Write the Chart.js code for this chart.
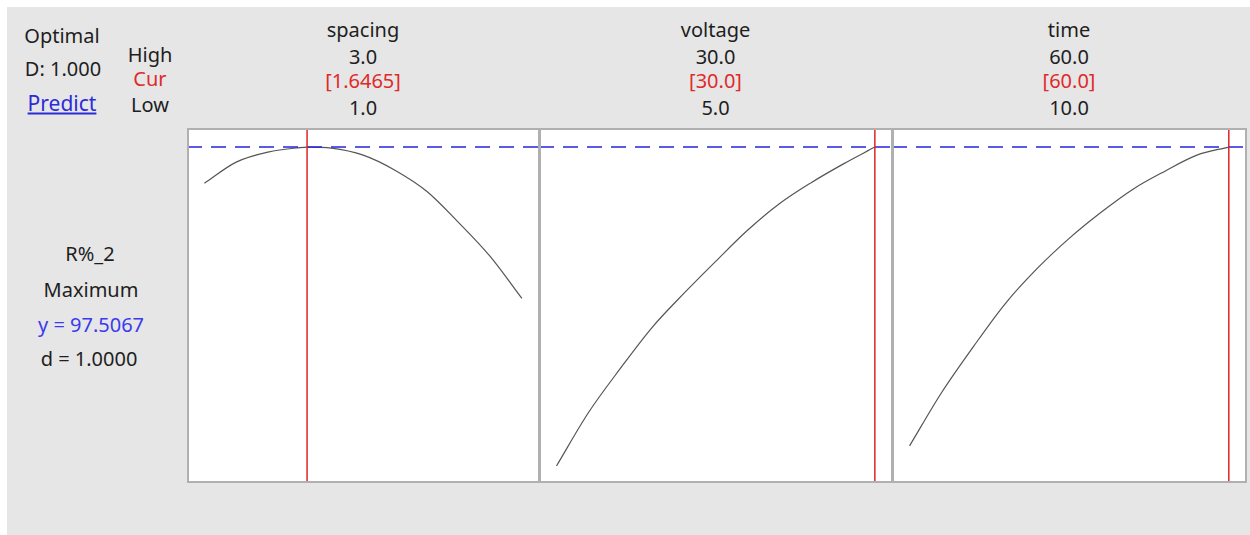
<!DOCTYPE html>
<html>
<head>
<meta charset="utf-8">
<script src="https://cdn.jsdelivr.net/npm/chart.js@4/dist/chart.umd.min.js"></script>
<style>
  body { margin: 0; background: #ffffff; font-family: 'Noto Sans', sans-serif; }
  #frame { position: absolute; left: 7px; top: 7px; width: 1243px; height: 528px; background: #e6e6e6; }
  .t { position: absolute; font-size: 20px; color: #1e1e1e; white-space: pre; transform: translate(-50%, -50%); line-height: 1; }
  .red { color: #e02a2a; }
  .blue { color: #3a3af0; }
  .link { color: #2b2bd8; text-decoration: underline; font-size: 21px; }
  .panel { position: absolute; }
</style>
</head>
<body>
<div id="frame"></div>
<div id="texts"></div>
<script>
const factorNames = ['spacing', 'voltage', 'time'];
const highLabels = ['3.0', '30.0', '60.0'];
const curLabels = ['[1.6465]', '[30.0]', '[60.0]'];
const lowLabels = ['1.0', '5.0', '10.0'];
const lowValues = [1.0, 5.0, 10.0];
const highValues = [3.0, 30.0, 60.0];
const curValues = [1.6465, 30.0, 60.0];

const responseName = 'R%_2';
const goal = 'Maximum';
const yOptimal = 97.5067;
const dValue = '1.0000';
const compositeD = '1.000';

// curves
const spacingX = [1.0, 1.2, 1.4, 1.6, 1.6465, 1.8, 2.0, 2.2, 2.4, 2.6, 2.8, 3.0];
const spacingY = [92.13, 95.27, 96.76, 97.43, 97.51, 97.36, 96.31, 94.07, 90.93, 86.30, 81.22, 74.95];
const voltageX = [5, 7.5, 10, 12.5, 15, 17.5, 20, 22.5, 25, 27.5, 30];
const voltageY = [50.0, 57.92, 64.49, 70.62, 75.70, 80.48, 85.11, 89.07, 92.21, 94.97, 97.51];
const timeX = [10, 15, 20, 25, 30, 35, 40, 45, 50, 55, 60];
const timeY = [52.99, 60.91, 67.78, 74.20, 79.43, 83.91, 87.80, 91.24, 93.92, 96.31, 97.51];

const yMin = 47.46;
const yMax = 100.35;

const curvesX = [spacingX, voltageX, timeX];
const curvesY = [spacingY, voltageY, timeY];

// panel boxes
const panelLeft = [187, 539, 892];
const panelRight = [539, 892, 1246];
const panelTop = 128;
const panelBottom = 482;

const texts = document.getElementById('texts');
function addText(str, x, y, cls) {
    const d = document.createElement('div');
    d.className = 't' + (cls ? ' ' + cls : '');
    d.textContent = str;
    d.style.left = x + 'px';
    d.style.top = y + 'px';
    texts.appendChild(d);
}

addText('Optimal', 62, 36);
addText('D: ' + compositeD, 63, 69);
addText('Predict', 62, 103, 'link');
addText('High', 150, 55);
addText('Cur', 150, 79, 'red');
addText('Low', 150, 105);
addText(responseName, 90, 254);
addText(goal, 91, 290);
addText('y = ' + yOptimal.toFixed(4), 91, 325, 'blue');
addText('d = ' + dValue, 89, 359);

const borderPlugin = {
    id: 'panelBorder',
    afterDraw(chart) {
        const a = chart.chartArea;
        const c = chart.ctx;
        c.save();
        c.strokeStyle = '#b0b0b0';
        c.lineWidth = 2;
        c.strokeRect(a.left + 1, a.top + 1, a.right - a.left - 2, a.bottom - a.top - 2);
        c.restore();
    }
};

for (let i = 0; i < 3; i++) {
    const cx = (panelLeft[i] + panelRight[i]) / 2;
    addText(factorNames[i], cx, 30);
    addText(highLabels[i], cx, 57);
    addText(curLabels[i], cx, 81, 'red');
    addText(lowLabels[i], cx, 108);

    const span = highValues[i] - lowValues[i];
    const xMin = lowValues[i] - span * 0.055;
    const xMax = highValues[i] + span * 0.057;

    const holder = document.createElement('div');
    holder.className = 'panel';
    holder.style.left = panelLeft[i] + 'px';
    holder.style.top = panelTop + 'px';
    holder.style.width = (panelRight[i] - panelLeft[i] + 1) + 'px';
    holder.style.height = (panelBottom - panelTop + 1) + 'px';
    const canvas = document.createElement('canvas');
    holder.appendChild(canvas);
    document.body.appendChild(holder);

    new Chart(canvas.getContext('2d'), {
        type: 'scatter',
        data: {
            datasets: [{
                data: curvesX[i].map((x, k) => ({ x: x, y: curvesY[i][k] })),
                showLine: true,
                borderColor: '#555555',
                borderWidth: 1.2,
                pointRadius: 0,
                cubicInterpolationMode: 'monotone',
                order: 3
            }, {
                data: [{ x: xMin, y: yOptimal }, { x: xMax, y: yOptimal }],
                showLine: true,
                borderColor: '#2424e0',
                borderWidth: 1.5,
                borderDash: [15, 9],
                pointRadius: 0,
                order: 2
            }, {
                data: [{ x: curValues[i], y: yMin }, { x: curValues[i], y: yMax }],
                showLine: true,
                borderColor: '#e02424',
                borderWidth: 1.5,
                pointRadius: 0,
                order: 1
            }]
        },
        options: {
            responsive: true,
            maintainAspectRatio: false,
            animation: false,
            layout: { padding: 0 },
            plugins: {
                legend: { display: false },
                tooltip: { enabled: false }
            },
            scales: {
                x: { type: 'linear', min: xMin, max: xMax, display: false },
                y: { type: 'linear', min: yMin, max: yMax, display: false }
            }
        },
        plugins: [{
            id: 'panelBg',
            beforeDraw(chart) {
                const a = chart.chartArea;
                chart.ctx.save();
                chart.ctx.fillStyle = '#ffffff';
                chart.ctx.fillRect(a.left, a.top, a.right - a.left, a.bottom - a.top);
                chart.ctx.restore();
            }
        }, borderPlugin]
    });
}
</script>
</body>
</html>
